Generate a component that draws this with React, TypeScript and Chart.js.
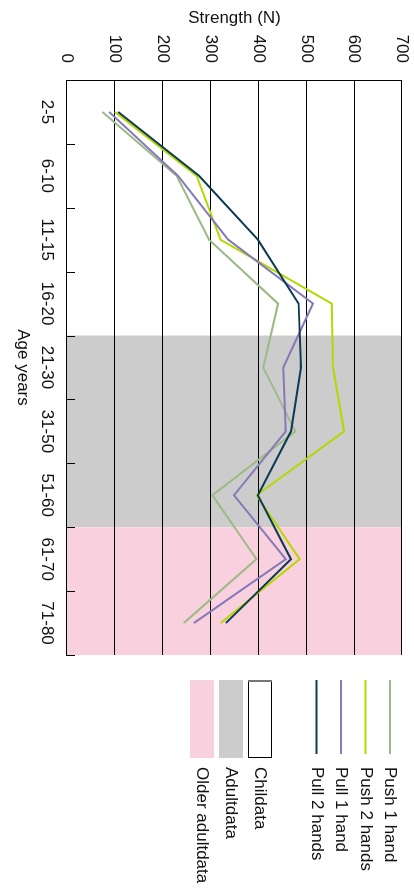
import React, { useEffect, useRef } from "react";
import { Chart, registerables } from "chart.js";

Chart.register(...registerables);

// ---- Data ----
const ageGroups = ["2-5", "6-10", "11-15", "16-20", "21-30", "31-50", "51-60", "61-70", "71-80"];
const push1Hand = [74, 229, 297, 441, 410, 477, 304, 396, 244];
const push2Hands = [100, 271, 321, 553, 556, 579, 396, 486, 321];
const pull1Hand = [88, 232, 337, 514, 452, 457, 349, 457, 265];
const pull2Hands = [107, 276, 399, 484, 489, 468, 399, 468, 332];

const childGroups = ["2-5", "6-10", "11-15", "16-20"];
const adultGroups = ["21-30", "31-50", "51-60"];
const olderGroups = ["61-70", "71-80"];

const strengthMin = 0;
const strengthMax = 700;
const strengthStep = 100;

const FONT = "'Liberation Sans', Arial, Helvetica, sans-serif";
const TEXT = "#111111";

const lineSeries = [
  { label: "Push 1 hand", data: push1Hand, color: "#9cba86", order: 3 },
  { label: "Push 2 hands", data: push2Hands, color: "#b7d700", order: 2 },
  { label: "Pull 1 hand", data: pull1Hand, color: "#8678b9", order: 1 },
  { label: "Pull 2 hands", data: pull2Hands, color: "#0c3a54", order: 0 },
];

const bandSeries = [
  { label: "Childata", groups: childGroups, fill: "#ffffff", stroke: "#000000" },
  { label: "Adultdata", groups: adultGroups, fill: "#cccccc", stroke: null },
  { label: "Older adultdata", groups: olderGroups, fill: "#f8d0de", stroke: null },
];

const bandsPlugin = {
  id: "ageBands",
  beforeDraw(chart: any) {
    const { ctx, chartArea, scales } = chart;
    const x = scales.x;
    ctx.save();
    bandSeries.forEach((b) => {
      const idx = b.groups.map((g) => ageGroups.indexOf(g));
      const start = x.getPixelForValue(Math.min(...idx) - 0.5);
      const end = x.getPixelForValue(Math.max(...idx) + 0.5);
      ctx.fillStyle = b.fill;
      ctx.fillRect(start, chartArea.top, end - start, chartArea.bottom - chartArea.top);
    });
    ctx.restore();
  },
  afterDatasetsDraw(chart: any) {
    const { ctx, chartArea, scales } = chart;
    const x = scales.x;
    ctx.save();
    ctx.strokeStyle = "#000";
    ctx.lineWidth = 1;
    for (let i = 0; i <= ageGroups.length; i++) {
      const px = Math.round(x.getPixelForValue(i - 0.5)) + 0.5;
      ctx.beginPath();
      ctx.moveTo(px, chartArea.bottom);
      ctx.lineTo(px, chartArea.bottom - 8);
      ctx.stroke();
    }
    ctx.restore();
  },
};

const legendPlugin = {
  id: "customLegend",
  afterDraw(chart: any) {
    const { ctx, chartArea } = chart;
    const x0 = chartArea.right + 25;
    const symW = 74;
    const textX = x0 + 87;
    ctx.save();
    ctx.font = `17px ${FONT}`;
    ctx.textBaseline = "middle";
    ctx.textAlign = "left";
    let y = chartArea.top + 12;
    lineSeries.forEach((s) => {
      ctx.strokeStyle = s.color;
      ctx.lineWidth = 2;
      ctx.beginPath();
      ctx.moveTo(x0, y);
      ctx.lineTo(x0 + symW, y);
      ctx.stroke();
      ctx.fillStyle = TEXT;
      ctx.fillText(s.label, textX, y);
      y += 24.5;
    });
    y += 32;
    bandSeries.forEach((b) => {
      ctx.fillStyle = b.fill;
      ctx.fillRect(x0, y - 12, symW + 4, 24);
      if (b.stroke) {
        ctx.strokeStyle = b.stroke;
        ctx.lineWidth = 1;
        ctx.strokeRect(x0 + 0.5, y - 11.5, symW + 3, 23);
        ctx.strokeStyle = "#777777";
        ctx.lineWidth = 2;
        ctx.beginPath();
        ctx.moveTo(x0 + 1, y - 12);
        ctx.lineTo(x0 + 1, y + 12);
        ctx.stroke();
      }
      ctx.fillStyle = TEXT;
      ctx.fillText(b.label, textX, y);
      y += 29;
    });
    ctx.restore();
  },
};

export default function App() {
  const canvasRef = useRef<HTMLCanvasElement | null>(null);

  useEffect(() => {
    if (!canvasRef.current) return;
    Chart.defaults.font.family = FONT;
    Chart.defaults.color = TEXT;
    const chart = new Chart(canvasRef.current, {
      type: "line",
      data: {
        labels: ageGroups,
        datasets: lineSeries.map((s) => ({
          label: s.label,
          data: s.data,
          borderColor: s.color,
          backgroundColor: s.color,
          borderWidth: 2,
          pointRadius: 0,
          tension: 0,
          fill: false,
          order: s.order,
        })),
      },
      options: {
        responsive: false,
        animation: false,
        devicePixelRatio: 1,
        layout: { padding: { left: 4, right: 237, top: 12, bottom: 12 } },
        plugins: {
          legend: { display: false },
          tooltip: { enabled: false },
        },
        scales: {
          x: {
            type: "category",
            offset: true,
            grid: { display: true, drawOnChartArea: false, drawTicks: false },
            border: { display: true, color: "#000", width: 1 },
            ticks: { font: { size: 17 }, color: TEXT, padding: 10, maxRotation: 0, autoSkip: false },
            title: { display: true, text: "Age years", font: { size: 17 }, color: TEXT, padding: { top: 4, bottom: 0 } },
            afterFit(scale: any) {
              scale.height = 55;
              scale.paddingLeft = 0;
              scale.paddingRight = 0;
            },
          },
          y: {
            min: strengthMin,
            max: strengthMax,
            ticks: { stepSize: strengthStep, font: { size: 17 }, color: TEXT, padding: 17 },
            grid: { color: "#000", lineWidth: 1, drawTicks: false },
            border: { display: true, color: "#000", width: 1 },
            title: { display: true, text: "Strength (N)", font: { size: 17 }, color: TEXT, padding: { top: 4, bottom: 0 } },
            afterFit(scale: any) {
              scale.width = 76;
              scale.paddingTop = 0;
              scale.paddingBottom = 0;
            },
          },
        },
      },
      plugins: [bandsPlugin, legendPlugin],
    });
    return () => chart.destroy();
  }, []);

  return (
    <div
      style={{
        position: "fixed",
        left: 0,
        top: 0,
        width: 892,
        height: 414,
        transform: "translateX(414px) rotate(90deg)",
        transformOrigin: "0 0",
        background: "#ffffff",
      }}
    >
      <canvas ref={canvasRef} width={892} height={414} style={{ display: "block", width: 892, height: 414 }} />
    </div>
  );
}
